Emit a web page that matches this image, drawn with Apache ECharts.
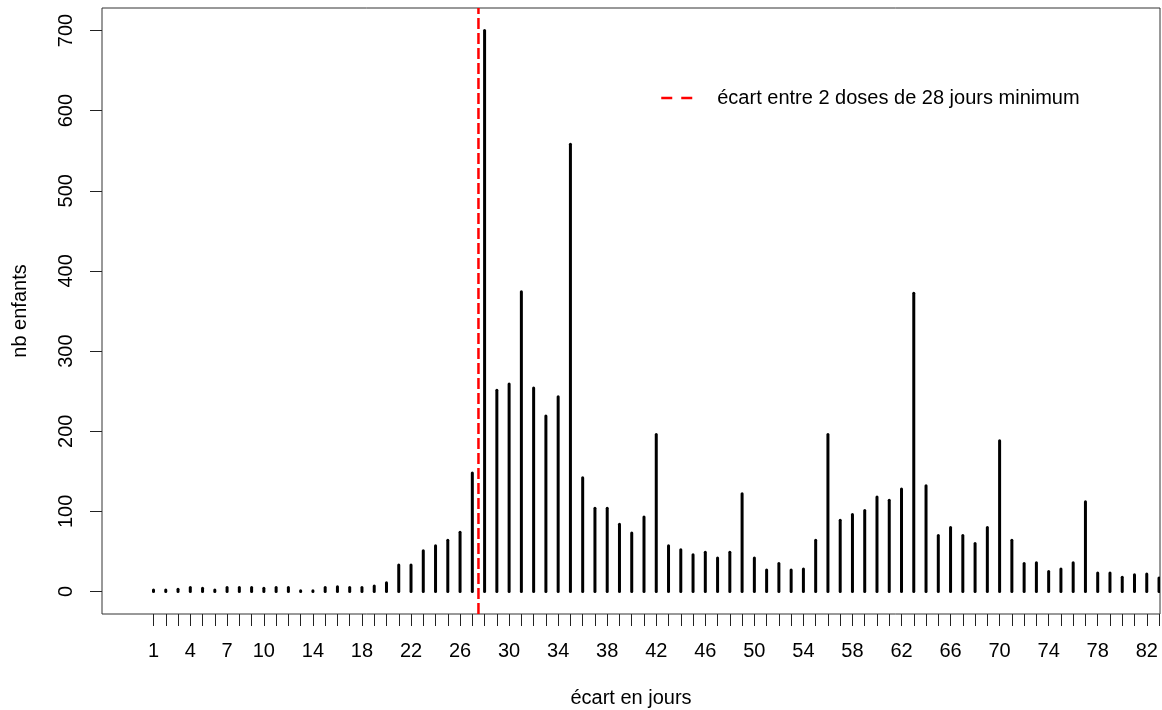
<!DOCTYPE html>
<html>
<head>
<meta charset="utf-8">
<title>Écart entre doses</title>
<script src="https://cdn.jsdelivr.net/npm/echarts@6/dist/echarts.min.js"></script>
<style>
  html, body { margin: 0; padding: 0; background: #fff; }
  #chart { width: 1162px; height: 710px; }
</style>
</head>
<body>
<div id="chart"></div>
<script>
// Nombre d'enfants selon l'écart (en jours) entre deux doses
const days = [];
for (let d = 1; d <= 83; d++) days.push(d);

const counts = [
  2, 2, 3, 5, 4, 2, 5, 5, 5, 4,
  5, 5, 1, 1, 5, 6, 5, 5, 7, 11,
  33, 33, 51, 57, 64, 74, 148, 700, 251, 259,
  374, 254, 219, 243, 558, 142, 104, 104, 84, 73,
  93, 196, 57, 52, 46, 49, 42, 49, 122, 42,
  27, 35, 27, 28, 64, 196, 89, 96, 101, 118,
  114, 128, 372, 132, 70, 80, 70, 60, 80, 188,
  64, 35, 36, 25, 28, 36, 112, 23, 23, 18,
  21, 22, 17
];

// Graduations
const xTickLabels = [1, 4, 7, 10, 14, 18, 22, 26, 30, 34, 38, 42, 46, 50, 54, 58, 62, 66, 70, 74, 78, 82];
const yTickLabels = [0, 100, 200, 300, 400, 500, 600, 700];

// Seuil des 28 jours (trait vertical)
const thresholdX = 27.5;
const thresholdLabel = 'écart entre 2 doses de 28 jours minimum';

const FONT = '"Liberation Sans", Arial, sans-serif';

const chart = echarts.init(document.getElementById('chart'), null, { renderer: 'canvas' });

const option = {
  backgroundColor: '#fff',
  animation: false,
  textStyle: { fontFamily: FONT, color: '#000' },
  grid: {
    left: 102, top: 8, width: 1058, height: 606,
    containLabel: false,
    outerBoundsMode: 'none',
    show: true, borderColor: '#333', borderWidth: 1, backgroundColor: 'transparent'
  },
  legend: {
    left: 655, top: 83,
    itemWidth: 31, itemHeight: 20,
    textStyle: { fontFamily: FONT, fontSize: 20, color: '#000', padding: [0, 0, 0, 20] },
    data: [{
      name: thresholdLabel,
      itemStyle: { opacity: 0 },
      lineStyle: { color: '#ff0000', width: 2.5, type: [11, 9] }
    }]
  },
  xAxis: {
    type: 'value',
    min: -3.2, max: 83.08,
    name: 'écart en jours',
    nameLocation: 'middle',
    nameGap: 74,
    nameTextStyle: { fontFamily: FONT, fontSize: 20, color: '#000' },
    axisLine: { show: false, onZero: false },
    splitLine: { show: false },
    axisTick: { show: true, length: 12, lineStyle: { color: '#222', width: 1 }, customValues: days },
    axisLabel: { fontFamily: FONT, fontSize: 20, color: '#000', margin: 27, customValues: xTickLabels }
  },
  yAxis: {
    type: 'value',
    min: -28, max: 728,
    name: 'nb enfants',
    nameLocation: 'middle',
    nameGap: 72,
    nameRotate: 90,
    nameTextStyle: { fontFamily: FONT, fontSize: 20, color: '#000' },
    axisLine: { show: false, onZero: false },
    splitLine: { show: false },
    axisTick: { show: true, length: 12, lineStyle: { color: '#222', width: 1 }, customValues: yTickLabels },
    axisLabel: { fontFamily: FONT, fontSize: 20, color: '#000', margin: 26, rotate: 90, customValues: yTickLabels }
  },
  series: [
    {
      // traits verticaux (type "h")
      name: 'nb enfants',
      type: 'custom',
      clip: true,
      data: days.map((d, i) => [d, counts[i]]),
      renderItem: function (params, api) {
        const x = api.value(0);
        const y = api.value(1);
        const p0 = api.coord([x, 0]);
        const p1 = api.coord([x, y]);
        return {
          type: 'line',
          shape: { x1: p0[0], y1: p0[1], x2: p1[0], y2: p1[1] },
          style: { stroke: '#000', lineWidth: 3, lineCap: 'round' }
        };
      }
    },
    {
      name: thresholdLabel,
      type: 'line',
      symbol: 'none',
      clip: true,
      data: [[thresholdX, -28], [thresholdX, 728]],
      itemStyle: { color: '#ff0000' },
      lineStyle: { color: '#ff0000', width: 2.5, type: [11, 4] },
      z: 3
    }
  ]
};

chart.setOption(option);
</script>
</body>
</html>
